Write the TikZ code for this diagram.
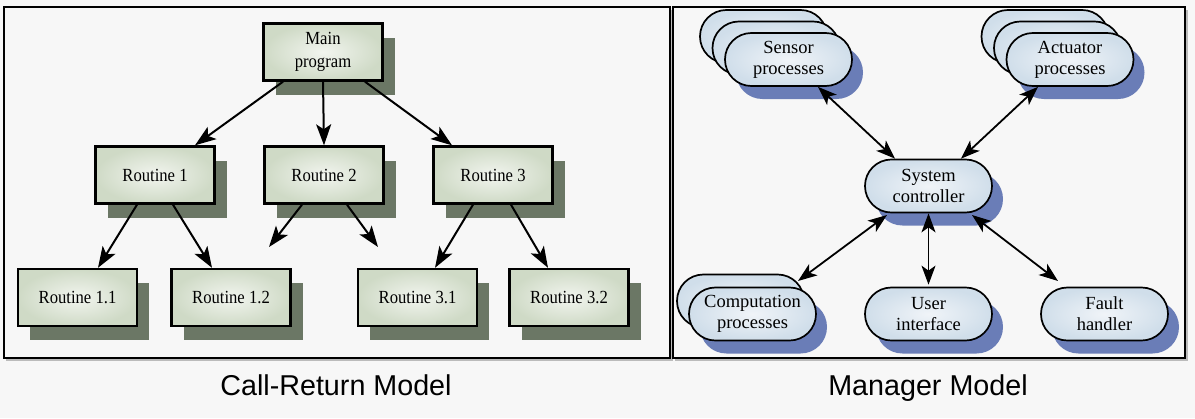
\documentclass[tikz,border=0pt]{standalone}
\usepackage{fontspec}
\setmainfont{Liberation Serif}
\newfontfamily\lfont{Liberation Serif}[FakeStretch=0.9]
\newfontfamily\rfont{Liberation Serif}
\newfontfamily\capfont{Liberation Sans}
\usetikzlibrary{arrows.meta,shadows,calc}
\definecolor{bg}{HTML}{F7F7F7}
\definecolor{boxgreen}{HTML}{CFDAC6}
\definecolor{boxlight}{HTML}{F2F5EF}
\definecolor{shadowgreen}{HTML}{6B7765}
\definecolor{bluefill}{HTML}{D0DEEA}
\definecolor{bluelight}{HTML}{F0F4F8}
\definecolor{shadowblue}{HTML}{6A7DB7}
\tikzset{
  bigtip/.tip={Stealth[length=21pt,width=15pt,inset=5pt]},
  midtip/.tip={Stealth[length=19pt,width=14pt,inset=5pt]}
}
\begin{document}
\begin{tikzpicture}[x=1pt,y=-1pt,
  panel/.style={line width=2pt, draw=black, fill=bg,
    drop shadow={shadow xshift=2.5pt, shadow yshift=-3pt, opacity=0.35, fill=black!70}},
  rbox/.style={rectangle, draw=black, line width=2.4pt, minimum width=119pt, minimum height=57pt,
    inner color=boxlight, outer color=boxgreen, align=center,
    font=\lfont\fontsize{18.5}{23}\selectfont,
    drop shadow={shadow xshift=12pt, shadow yshift=-14pt, fill=shadowgreen, opacity=1}},
  stad/.style={rectangle, rounded corners=26.4pt, draw=black, line width=1.7pt,
    minimum width=127pt, minimum height=53pt, inner color=bluelight, outer color=bluefill,
    align=center, font=\rfont\fontsize{18.5}{21}\selectfont},
  stadsh/.style={stad, drop shadow={shadow xshift=11pt, shadow yshift=-13pt, fill=shadowblue, opacity=1}},
  arr/.style={-bigtip, line width=2pt},
  darr/.style={midtip-midtip, line width=1.8pt},
  captext/.style={font=\capfont\fontsize{28.7}{34}\selectfont, anchor=base}
]
\fill[bg] (0,0) rectangle (1195,418);
\useasboundingbox (0,0) rectangle (1195,418);

% panels
\draw[panel] (3.5,6.5) rectangle (670,358);
\draw[panel] (672.5,6.5) rectangle (1185,358);

% ---------- Call-Return model ----------
\node[rbox] (main) at (323,52) {Main\\program};
\node[rbox] (r1) at (155,175) {Routine 1};
\node[rbox] (r2) at (324,175) {Routine 2};
\node[rbox] (r3) at (493,175) {Routine 3};
\node[rbox] (r11) at (77.5,297.5) {Routine 1.1};
\node[rbox] (r12) at (231,297.5) {Routine 1.2};
\node[rbox] (r31) at (417.5,297.5) {Routine 3.1};
\node[rbox] (r32) at (569,297.5) {Routine 3.2};

\coordinate (d1) at (269,247);
\coordinate (d2) at (378,247);

\draw[arr] ([xshift=-40pt]main.south) -- ([xshift=40pt]r1.north);
\draw[arr] (main.south) -- (r2.north);
\draw[arr] ([xshift=42pt]main.south) -- ([xshift=-41pt]r3.north);
\draw[arr] ([xshift=-18pt]r1.south) -- ([xshift=20.5pt]r11.north);
\draw[arr] ([xshift=18pt]r1.south) -- ([xshift=-19pt]r12.north);
\draw[arr] ([xshift=-22pt]r2.south) -- (d1);
\draw[arr] ([xshift=23pt]r2.south) -- (d2);
\draw[arr] ([xshift=-20pt]r3.south) -- ([xshift=17.5pt]r31.north);
\draw[arr] ([xshift=18pt]r3.south) -- ([xshift=-21pt]r32.north);

\node[captext] (capL) at (336,395) {Call-Return Model};

% ---------- Manager model ----------
\node[stad] (sensorB2) at (763.5,36.5) {};
\node[stad] (sensorB1) at (776,48) {};
\node[stadsh] (sensor) at (788.5,59.5) {Sensor\\processes};

\node[stad] (actB2) at (1045,36.5) {};
\node[stad] (actB1) at (1057.5,48) {};
\node[stadsh] (act) at (1070,59.5) {Actuator\\processes};

\node[stadsh] (sys) at (928.5,186) {System\\controller};

\node[stad] (compB1) at (740.5,301) {};
\node[stadsh] (comp) at (752.5,314) {Computation\\processes};
\node[stadsh] (user) at (928.5,314) {User\\interface};
\node[stadsh] (fault) at (1104.5,314) {Fault\\handler};

\draw[darr] ([xshift=29.5pt]sensor.south) -- ([xshift=-33.5pt]sys.north);
\draw[darr] ([xshift=-32pt]act.south) -- ([xshift=32.5pt]sys.north);
\draw[darr] ($(sys.center)+(-41.5,29)$) -- ($(comp.center)+(45.5,-33)$);
\draw[darr] (sys.south) -- ([yshift=2pt]user.north);
\draw[darr] ($(sys.center)+(43.5,29)$) -- ($(fault.center)+(-46.5,-33)$);

\node[captext] (capR) at (928,395) {Manager Model};
\end{tikzpicture}
\end{document}
